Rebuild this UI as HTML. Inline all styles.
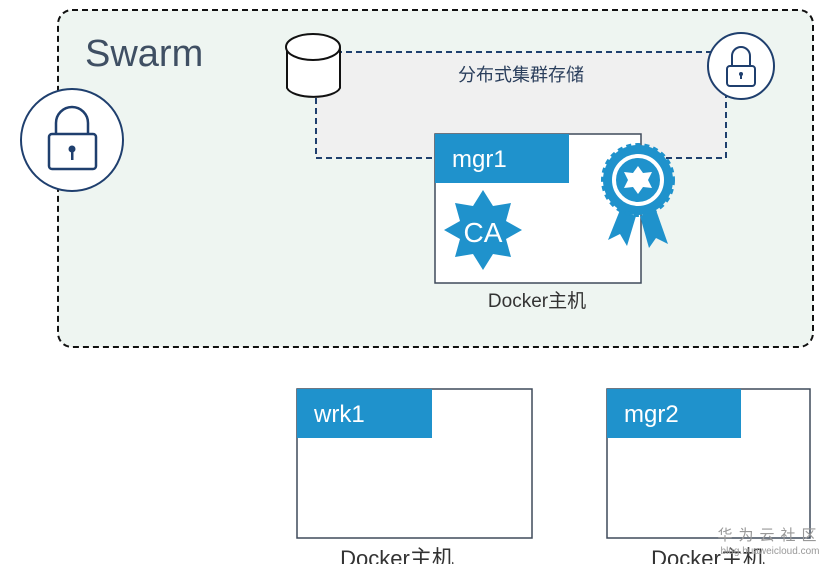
<!DOCTYPE html>
<html><head><meta charset="utf-8"><style>
body{margin:0;width:838px;height:564px;overflow:hidden;background:#fff;font-family:"Liberation Sans","Noto Sans CJK SC",sans-serif}
</style></head><body>
<svg width="838" height="564" xmlns="http://www.w3.org/2000/svg" style="position:absolute;left:0;top:0">
<rect x="58" y="10" width="755" height="337" rx="14" fill="#eef5f1" stroke="#111" stroke-width="2" stroke-dasharray="6,4"/>
<text x="85" y="66" font-size="38" fill="#3f4f63" font-family="Liberation Sans, sans-serif">Swarm</text>
<rect x="316" y="52" width="410" height="106" fill="#f0f0f0" stroke="#1f3f6e" stroke-width="2" stroke-dasharray="6,4"/>
<text x="521" y="81" font-size="18" fill="#2a3e5c" text-anchor="middle">分布式集群存储</text>
<!-- cylinder -->
<path d="M287,47 L287,88 A27,11 0 0 0 340,88 L340,47" fill="#fff" stroke="#111" stroke-width="2"/>
<ellipse cx="313" cy="47" rx="27" ry="13" fill="#fff" stroke="#111" stroke-width="2"/>
<!-- right lock -->
<circle cx="741" cy="66" r="33" fill="#fff" stroke="#1f3f6e" stroke-width="2"/>
<path d="M732,66 v-10 a9,9 0 0 1 18,0 v10" fill="none" stroke="#1f3f6e" stroke-width="2"/>
<rect x="727" y="66" width="28" height="20" rx="3" fill="none" stroke="#1f3f6e" stroke-width="2"/>
<circle cx="741" cy="74" r="2" fill="#1f3f6e"/><rect x="740" y="74" width="2" height="5" fill="#1f3f6e"/>
<!-- left lock -->
<circle cx="72" cy="140" r="51" fill="#fff" stroke="#1f3f6e" stroke-width="2"/>
<path d="M56,133 v-10 a16,16 0 0 1 32,0 v10" fill="none" stroke="#1f3f6e" stroke-width="2.5"/>
<rect x="49" y="134" width="47" height="35" rx="3" fill="none" stroke="#1f3f6e" stroke-width="2.5"/>
<circle cx="72" cy="149" r="3.5" fill="#1f3f6e"/><rect x="71" y="150" width="2.5" height="10" fill="#1f3f6e"/>
<!-- mgr1 -->
<rect x="435" y="134" width="206" height="149" fill="#fff" stroke="#3f4a5a" stroke-width="1.5"/>
<rect x="435" y="134" width="134" height="49" fill="#1f92cc"/>
<text x="452" y="167" font-size="24" fill="#fff">mgr1</text>
<polygon points="483,190 493,206 511,203 506,221 522,230 506,239 511,257 493,254 483,270 473,254 455,257 460,239 444,230 460,221 455,203 473,206" fill="#1f92cc"/>
<text x="483" y="242" font-size="28" fill="#fff" text-anchor="middle">CA</text>
<!-- rosette -->
<polygon points="620,210 608,240 620,234 627,246 636,216" fill="#1f92cc"/>
<polygon points="656,210 668,244 656,238 649,248 640,216" fill="#1f92cc"/>
<circle cx="638" cy="180" r="35" fill="#1f92cc" stroke="#1f92cc" stroke-width="4" stroke-dasharray="5,4"/>
<circle cx="638" cy="180" r="24" fill="none" stroke="#fff" stroke-width="4"/>
<polygon points="638,166 643,173 652,172 648,180 652,188 643,187 638,194 633,187 624,188 628,180 624,172 633,173" fill="#fff"/>
<text x="537" y="307" font-size="19" fill="#333" text-anchor="middle">Docker主机</text>
<!-- wrk1 -->
<rect x="297" y="389" width="235" height="149" fill="#fff" stroke="#3f4a5a" stroke-width="1.5"/>
<rect x="297" y="389" width="135" height="49" fill="#1f92cc"/>
<text x="314" y="422" font-size="24" fill="#fff">wrk1</text>
<text x="397" y="566" font-size="22" fill="#333" text-anchor="middle">Docker主机</text>
<!-- mgr2 -->
<rect x="607" y="389" width="203" height="149" fill="#fff" stroke="#3f4a5a" stroke-width="1.5"/>
<rect x="607" y="389" width="134" height="49" fill="#1f92cc"/>
<text x="624" y="422" font-size="24" fill="#fff">mgr2</text>
<text x="708" y="566" font-size="22" fill="#333" text-anchor="middle">Docker主机</text>
<text x="770" y="540" font-size="15" fill="#999" text-anchor="middle" letter-spacing="6">华为云社区</text>
<text x="770" y="554" font-size="10" fill="#999" text-anchor="middle">blog.huaweicloud.com</text>
</svg>
</body></html>
